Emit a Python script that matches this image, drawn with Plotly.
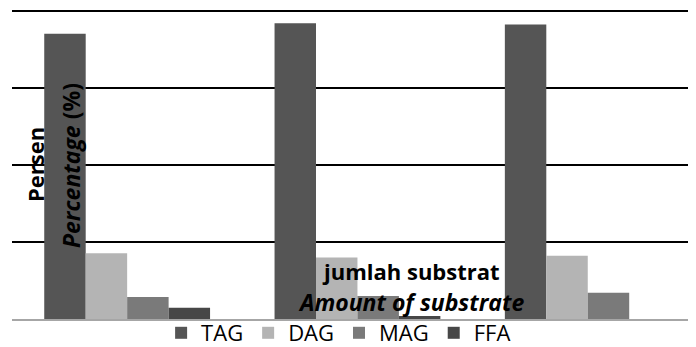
import plotly.graph_objects as go

categories = ["1", "2", "3"]
series_names = ["TAG", "DAG", "MAG", "FFA"]
tag = [74.1, 76.8, 76.5]
dag = [17.1, 16.0, 16.4]
mag = [5.7, 6.0, 6.8]
ffa = [2.9, 0.8, 0.0]
values = [tag, dag, mag, ffa]
colors = ["#555555", "#b4b4b4", "#7a7a7a", "#474747"]

fig = go.Figure()
for name, vals, col in zip(series_names, values, colors):
    fig.add_trace(go.Bar(x=categories, y=vals, name=name,
                         marker=dict(color=col, line=dict(width=0))))

# page body has an 8px margin: figure is drawn at (8, 8)
fig.update_layout(
    width=688, height=339,
    margin=dict(l=4, r=0, t=0, b=28, autoexpand=False),
    paper_bgcolor="white", plot_bgcolor="white",
    barmode="group", bargap=0.28, bargroupgap=0,
    font=dict(family="Open Sans", color="black"),
    showlegend=True,
    legend=dict(orientation="h", x=0.218, xanchor="left", y=-0.045, yanchor="middle",
                font=dict(size=22, family="Open Sans"), bgcolor="rgba(0,0,0,0)",
                itemwidth=30, tracegroupgap=0),
    xaxis=dict(range=[-0.5, 2.47], showticklabels=False, showgrid=False,
               showline=True, linecolor="#a6a6a6", linewidth=2, ticks="", zeroline=False),
    yaxis=dict(range=[0, 80.78], dtick=20, showticklabels=False, showgrid=True,
               gridcolor="black", gridwidth=2, zeroline=False, ticks="", showline=False),
)

def note(text, x, y, angle=0, size=22):
    fig.add_annotation(text=text, xref="paper", yref="paper", x=x, y=y,
                       xanchor="center", yanchor="middle", textangle=angle,
                       showarrow=False, font=dict(size=size, color="black"))

note("<b>Persen</b>", 0.0336, 0.498, -90, 22)
note("<b><i>Percentage</i> (%)</b>", 0.0863, 0.492, -90, 23)
note("<b>jumlah substrat</b>", 0.583, 0.154, 0, 22)
note("<b><i>Amount of substrate</i></b>", 0.583, 0.055, 0, 23)

fig.write_html("out.html")
